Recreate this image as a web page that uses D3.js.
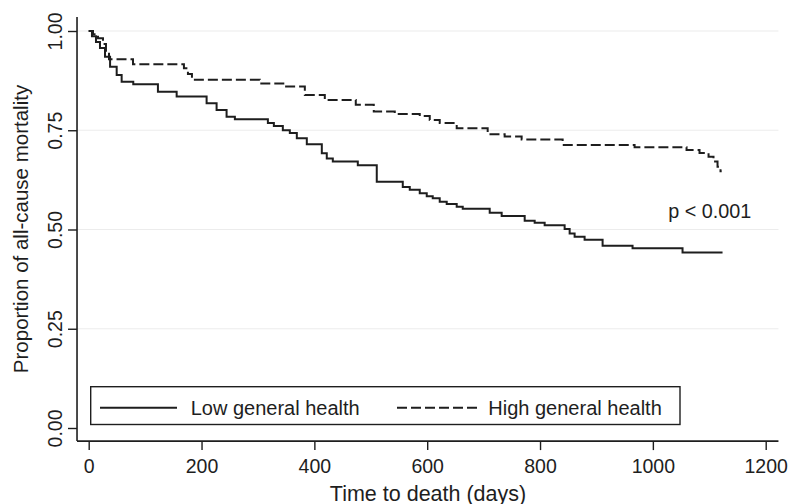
<!DOCTYPE html>
<html>
<head>
<meta charset="utf-8">
<script src="https://cdn.jsdelivr.net/npm/d3@7"></script>
<style>
  body { margin: 0; background: #fff; }
  svg { display: block; font-family: "Liberation Sans", Arial, sans-serif; }
</style>
</head>
<body>
<svg id="chart" width="790" height="504"></svg>
<script>
// Kaplan-Meier steps: time of each drop (days) and survival after it
const lowTimes = [0, 5.8, 12.9, 20.0, 28.9, 37.9, 49.6, 58.4, 79.0, 122.7, 155.9, 209.0, 226.7, 244.4, 259.1,
  317.6, 328.2, 344.1, 356.5, 368.9, 386.6, 413.2, 422.0, 432.7, 477.0, 510.6, 556.7, 569.1, 586.8, 599.2,
  609.8, 622.2, 634.6, 652.3, 663.0, 710.8, 732.0, 772.8, 790.5, 808.2, 843.6, 852.5, 861.3, 879.0, 910.9,
  964.0, 1052.6];
const lowSurv = [1.000, 0.987, 0.972, 0.957, 0.935, 0.910, 0.889, 0.872, 0.866, 0.847, 0.835, 0.818, 0.801, 0.784, 0.778,
  0.768, 0.761, 0.750, 0.743, 0.730, 0.715, 0.692, 0.679, 0.671, 0.662, 0.620, 0.607, 0.600, 0.591, 0.584,
  0.579, 0.570, 0.564, 0.557, 0.552, 0.542, 0.534, 0.522, 0.517, 0.511, 0.501, 0.490, 0.482, 0.474, 0.459,
  0.453, 0.442];
const lowEnd = 1123.5;

const highTimes = [0, 7.6, 16.5, 25.3, 30.6, 36.0, 78.5, 168.8, 175.9, 183.0, 303.4, 347.7, 383.1, 418.5, 473.4,
  505.3, 542.5, 586.8, 604.5, 622.2, 652.3, 707.2, 737.3, 767.4, 840.1, 967.6, 1059.7, 1082.7, 1098.7,
  1107.5, 1114.6, 1119.9];
const highSurv = [1.000, 0.992, 0.982, 0.967, 0.947, 0.929, 0.916, 0.906, 0.892, 0.877, 0.868, 0.860, 0.839, 0.826, 0.814,
  0.797, 0.791, 0.786, 0.776, 0.768, 0.755, 0.740, 0.734, 0.727, 0.713, 0.707, 0.700, 0.693, 0.683,
  0.671, 0.658, 0.647];
const highEnd = 1122;

const xTicks = [0, 200, 400, 600, 800, 1000, 1200];
const yTicks = [0, 0.25, 0.5, 0.75, 1];
const legendLabels = ["Low general health", "High general health"];
const pLabel = "p < 0.001";

function steps(times, surv, end) {
  const pts = times.map((t, i) => ({ t: t, v: surv[i] }));
  pts.push({ t: end, v: surv[surv.length - 1] });
  return pts;
}

const svg = d3.select("#chart");
const ink = "#1e1e1e";

const x = d3.scaleLinear().domain([0, 1200]).range([88.7, 765.7]);
const y = d3.scaleLinear().domain([0, 1]).range([428, 31]);

const plotLeft = x(-20.7), plotRight = x(1222.6);
const plotTop = y(1.035), plotBottom = y(-0.033);

// gridlines
svg.append("g")
  .selectAll("line")
  .data(yTicks.filter(d => d > 0))
  .join("line")
  .attr("x1", plotLeft)
  .attr("x2", plotRight)
  .attr("y1", d => y(d))
  .attr("y2", d => y(d))
  .attr("stroke", "#ececec")
  .attr("stroke-width", 1.2);

// axes
const xAxis = svg.append("g")
  .attr("transform", `translate(0,${plotBottom})`)
  .call(d3.axisBottom(x).tickValues(xTicks).tickSize(9).tickPadding(6).tickFormat(d3.format("d")));
xAxis.select(".domain").remove();
xAxis.selectAll(".tick line").attr("stroke", ink).attr("stroke-width", 1.4);
xAxis.selectAll(".tick text")
  .attr("fill", ink)
  .attr("font-size", 19.5)
  .attr("font-family", "Liberation Sans, Arial, sans-serif")
  .attr("dy", null)
  .attr("y", 472.7 - plotBottom);

const yAxis = svg.append("g")
  .attr("transform", `translate(${plotLeft},0)`)
  .call(d3.axisLeft(y).tickValues(yTicks).tickSize(9).tickFormat(d3.format(".2f")));
yAxis.select(".domain").remove();
yAxis.selectAll(".tick line").attr("stroke", ink).attr("stroke-width", 1.4);
yAxis.selectAll(".tick text")
  .attr("fill", ink)
  .attr("font-size", 19.5)
  .attr("font-family", "Liberation Sans, Arial, sans-serif")
  .attr("x", null)
  .attr("dy", null)
  .attr("text-anchor", "middle")
  .attr("transform", `translate(${61.7 - plotLeft},0) rotate(-90)`);

svg.append("line")
  .attr("x1", plotLeft).attr("x2", plotLeft)
  .attr("y1", plotTop).attr("y2", plotBottom)
  .attr("stroke", ink).attr("stroke-width", 1.6);
svg.append("line")
  .attr("x1", plotLeft).attr("x2", plotRight)
  .attr("y1", plotBottom).attr("y2", plotBottom)
  .attr("stroke", ink).attr("stroke-width", 1.6);

// survival curves
const line = d3.line()
  .x(d => x(d.t))
  .y(d => y(d.v))
  .curve(d3.curveStepAfter);

svg.append("path")
  .datum(steps(lowTimes, lowSurv, lowEnd))
  .attr("d", line)
  .attr("fill", "none")
  .attr("stroke", ink)
  .attr("stroke-width", 2);

svg.append("path")
  .datum(steps(highTimes, highSurv, highEnd))
  .attr("d", line)
  .attr("fill", "none")
  .attr("stroke", ink)
  .attr("stroke-width", 2)
  .attr("stroke-dasharray", "10,4");

// p-value annotation
svg.append("text")
  .attr("x", 668.3)
  .attr("y", 217.7)
  .attr("font-size", 19.8)
  .attr("fill", ink)
  .text(pLabel);

// legend
const legend = svg.append("g");
legend.append("rect")
  .attr("x", 90.7).attr("y", 386.7)
  .attr("width", 680 - 90.7).attr("height", 424.5 - 386.7)
  .attr("fill", "#fff")
  .attr("stroke", ink)
  .attr("stroke-width", 1.4);

const legendItems = [
  { label: legendLabels[0], x1: 100, x2: 177, tx: 190.7, dash: null },
  { label: legendLabels[1], x1: 397, x2: 477, tx: 488.3, dash: "10,4" }
];
legendItems.forEach(item => {
  legend.append("line")
    .attr("x1", item.x1).attr("x2", item.x2)
    .attr("y1", 407.7).attr("y2", 407.7)
    .attr("stroke", ink)
    .attr("stroke-width", 2)
    .attr("stroke-dasharray", item.dash);
  legend.append("text")
    .attr("x", item.tx)
    .attr("y", 415)
    .attr("font-size", 20)
    .attr("fill", ink)
    .text(item.label);
});

// axis titles
svg.append("text")
  .attr("x", 428)
  .attr("y", 500.5)
  .attr("text-anchor", "middle")
  .attr("font-size", 21.5)
  .attr("fill", ink)
  .text("Time to death (days)");

svg.append("text")
  .attr("transform", "translate(28,229) rotate(-90)")
  .attr("text-anchor", "middle")
  .attr("font-size", 20.5)
  .attr("fill", ink)
  .text("Proportion of all-cause mortality");
</script>
</body>
</html>
